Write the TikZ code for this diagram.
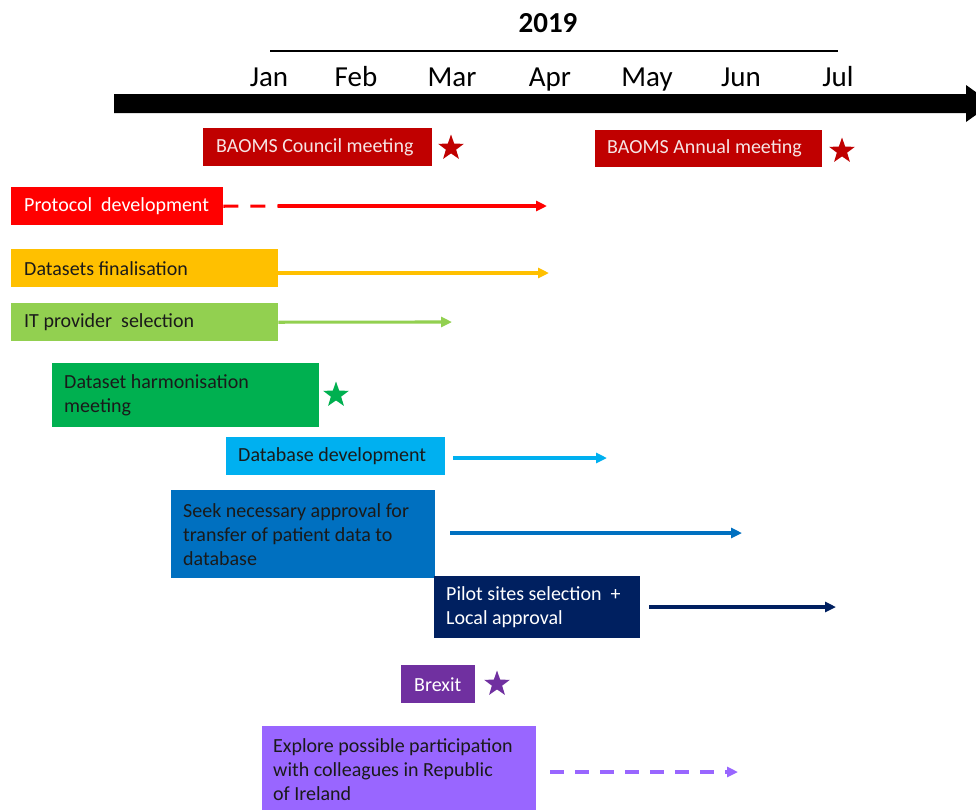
\documentclass[tikz,border=0pt]{standalone}
\usepackage{fontspec}
\setmainfont{Carlito}
\usetikzlibrary{shapes.geometric,arrows.meta}
\definecolor{cDarkRed}{HTML}{C00000}
\definecolor{cPink}{HTML}{F6E4E4}
\definecolor{cRed}{HTML}{FF0000}
\definecolor{cGold}{HTML}{FFC000}
\definecolor{cLGreen}{HTML}{92D050}
\definecolor{cGreen}{HTML}{00B050}
\definecolor{cCyan}{HTML}{00B0F0}
\definecolor{cBlue}{HTML}{0070C0}
\definecolor{cNavy}{HTML}{002060}
\definecolor{cPurple}{HTML}{7030A0}
\definecolor{cLav}{HTML}{9966FF}
\definecolor{cInk}{HTML}{1A1A1A}
\begin{document}
\begin{tikzpicture}[x=1pt,y=-1pt,
  box/.style={anchor=north west, inner sep=0pt, draw=none},
  btext/.style={anchor=west, inner sep=0pt, align=left,
    font=\fontsize{20}{24}\selectfont},
  month/.style={anchor=base, font=\fontsize{29}{32}\selectfont},
  arr/.style={line width=3.1pt, -{Triangle[length=11pt,width=10pt]}},
  dsh/.style={dash pattern=on 15pt off 12pt},
  mstar/.style={star, star points=5, star point ratio=2.5, minimum size=27pt, inner sep=0pt, draw=none}]
\useasboundingbox[fill=white] (0,0) rectangle (976,809);
\clip (0,0) rectangle (976,809);

% header
\node[anchor=base, font=\bfseries\fontsize{29}{32}\selectfont] (year) at (548,32) {2019};
\coordinate (ylA) at (270,51);
\coordinate (ylB) at (838,51);
\draw[line width=1.3pt] (ylA) -- (ylB);
\node[month] (jan) at (269,86) {Jan};
\node[month] (feb) at (356,86) {Feb};
\node[month] (mar) at (452,86) {Mar};
\node[month] (apr) at (550,86) {Apr};
\node[month] (may) at (647,86) {May};
\node[month] (jun) at (741,86) {Jun};
\node[month] (jul) at (838,86) {Jul};

% big timeline arrow
\fill[black] (114,94) -- (966,94) -- (966,85) -- (992,103.5) -- (966,122) -- (966,113) -- (114,113) -- cycle;

% boxes
\node[box, fill=cDarkRed, minimum width=229pt, minimum height=38pt] (council) at (203,128) {};
\node[btext, text=cPink] (councilT) at ([xshift=13pt]council.west) {BAOMS Council meeting};
\node[mstar, fill=cDarkRed] (councilstar) at (451,148) {};

\node[box, fill=cDarkRed, minimum width=227pt, minimum height=37pt] (annual) at (595,130) {};
\node[btext, text=cPink] (annualT) at ([xshift=12pt]annual.west) {BAOMS Annual meeting};
\node[mstar, fill=cDarkRed] (annualstar) at (842,151) {};

\node[box, fill=cRed, minimum width=212pt, minimum height=38pt] (protocol) at (11,187) {};
\node[btext, text=white] (protocolT) at ([xshift=13pt]protocol.west) {Protocol\ \ development};

\node[box, fill=cGold, minimum width=267pt, minimum height=38pt] (datasets) at (11,249) {};
\node[btext, text=cInk] (datasetsT) at ([xshift=13pt]datasets.west) {Datasets finalisation};

\node[box, fill=cLGreen, minimum width=267pt, minimum height=38pt] (itprov) at (11,303) {};
\node[btext, text=cInk] (itprovT) at ([xshift=13pt]itprov.west) {IT provider\ \ selection};

\node[box, fill=cGreen, minimum width=267pt, minimum height=64pt] (harmon) at (52,363) {};
\node[btext, text=cInk] (harmonT) at ([xshift=12pt]harmon.west) {Dataset harmonisation\\meeting};
\node[mstar, fill=cGreen] (harmonstar) at (336,395) {};

\node[box, fill=cCyan, minimum width=219pt, minimum height=38pt] (dbdev) at (226,437) {};
\node[btext, text=cInk] (dbdevT) at ([xshift=12pt]dbdev.west) {Database development};

\node[box, fill=cBlue, minimum width=264pt, minimum height=88pt] (seek) at (171,490) {};
\node[btext, text=cInk] (seekT) at ([xshift=12pt]seek.west) {Seek necessary approval for\\transfer of patient data to\\database};

\node[box, fill=cNavy, minimum width=206pt, minimum height=62pt] (pilot) at (434,576) {};
\node[btext, text=white] (pilotT) at ([xshift=12pt]pilot.west) {Pilot sites selection\ \ +\\Local approval};

\node[box, fill=cPurple, minimum width=74pt, minimum height=38pt] (brexit) at (401,665) {};
\node[btext, text=white] (brexitT) at ([xshift=13pt]brexit.west) {Brexit};
\node[mstar, fill=cPurple] (brexitstar) at (497,684) {};

\node[box, fill=cLav, minimum width=274pt, minimum height=86pt] (explore) at (262,726) {};
\node[btext, text=cInk] (exploreT) at ([xshift=11pt]explore.west) {Explore possible participation\\with colleagues in Republic\\of Ireland};

% connectors
\coordinate (pDashEnd) at (278,206);
\coordinate (pEnd) at (547,206);
\draw[cRed, line width=3.1pt, dsh] (protocol.east) -- (pDashEnd);
\draw[cRed, arr] (pDashEnd) -- (pEnd);

\coordinate (dStart) at (278,273);
\coordinate (dEnd) at (549,273);
\draw[cGold, arr] (dStart) -- (dEnd);

\coordinate (iEnd) at (452,322);
\draw[cLGreen, arr] (itprov.east) -- (iEnd);

\coordinate (dbStart) at (453,458);
\coordinate (dbEnd) at (607,458);
\draw[cCyan, arr] (dbStart) -- (dbEnd);

\coordinate (sStart) at (450,533);
\coordinate (sEnd) at (742,533);
\draw[cBlue, arr] (sStart) -- (sEnd);

\coordinate (plStart) at (649,607);
\coordinate (plEnd) at (836,607);
\draw[cNavy, arr] (plStart) -- (plEnd);

\coordinate (eStart) at (550,772);
\coordinate (eEnd) at (738,772);
\draw[cLav, arr, dash pattern=on 14pt off 11pt] (eStart) -- (eEnd);
\end{tikzpicture}
\end{document}
